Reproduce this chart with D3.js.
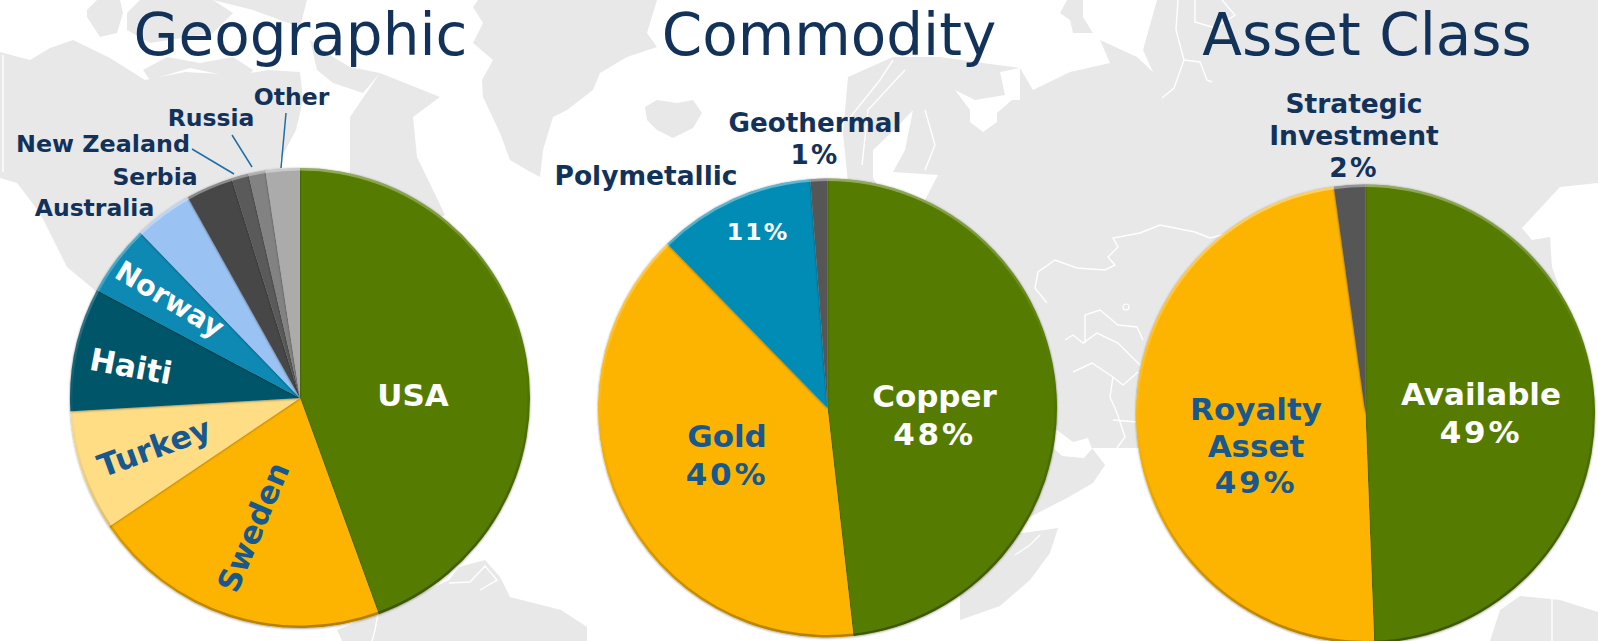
<!DOCTYPE html>
<html><head><meta charset="utf-8">
<script src="https://cdn.jsdelivr.net/npm/d3@7/dist/d3.min.js"></script>
<style>html,body{margin:0;padding:0;background:#fff;overflow:hidden}svg{display:block}
text{font-family:"DejaVu Sans",Verdana,sans-serif}</style></head><body>
<svg id="c" width="1598" height="641"></svg>
<script>
// ---------- data ----------
const geoNames  = ["USA","Sweden","Turkey","Haiti","Norway","Australia","Serbia","New Zealand","Russia","Other"];
const geoValues = [44.4,21.1,8.5,8.7,5.0,4.1,3.3,1.2,1.2,2.4];
const geoColors = ["#547b04","#fdb405","#ffdd85","#055468","#0789b3","#9ac2f3","#464646","#5a5a5a","#828282","#ababab"];
const comNames  = ["Copper","Gold","Polymetallic","Geothermal"];
const comValues = [48.2,39.5,11.1,1.2];
const comColors = ["#547b04","#fdb405","#068cb5","#565656"];
const astNames  = ["Available","Royalty Asset","Strategic Investment"];
const astValues = [49.4,48.4,2.2];
const astColors = ["#547b04","#fdb405","#565656"];
const titles = ["Geographic","Commodity","Asset Class"];

// ---------- layout (separate from data) ----------
const NAVY="#12325a", BLUE="#17598f", WHITE="#fff";
const pies = [
 {names:geoNames,values:geoValues,colors:geoColors,cx:300,cy:398,r:230,title:titles[0],tx:300.5},
 {names:comNames,values:comValues,colors:comColors,cx:827.5,cy:408,r:229.5,title:titles[1],tx:829},
 {names:astNames,values:astValues,colors:astColors,cx:1365.5,cy:414,r:229.5,title:titles[2],tx:1367}
];
// [lines, x, baseline y, size, fill, rotation, centred, line height]
const labels = [
 [["USA"],413,406,31,WHITE,0],
 [["Sweden"],253,527,31,BLUE,-67,1],
 [["Turkey"],154,447,31.5,BLUE,-20,1],
 [["Haiti"],131,366,31,WHITE,10.5,1],
 [["Norway"],170,299,28.5,WHITE,31,1],
 [["Australia"],94.5,216,23.5,NAVY,0],
 [["Serbia"],155,185,23.5,NAVY,0],
 [["New Zealand"],103,152,23.8,NAVY,0],
 [["Russia"],211,126,23.5,NAVY,0],
 [["Other"],291.5,105,23.5,NAVY,0],
 [["Copper","48%"],934.5,407,31,WHITE,0,0,38],
 [["Gold","40%"],727,447,31,BLUE,0,0,38],
 [["Polymetallic"],646,185,26.5,NAVY,0],
 [["11%"],758,240,23.5,WHITE,0],
 [["Geothermal","1%"],815,132,26.2,NAVY,0,0,32],
 [["Available","49%"],1481,405,31,WHITE,0,0,38],
 [["Royalty","Asset","49%"],1256,420,31,BLUE,0,0,36.5],
 [["Strategic","Investment","2%"],1354,113,26.5,NAVY,0,0,32]
];
const leaders = [[[286,113],[281,168]],[[232,135],[252,167]],[[192,149],[234,174]]];

// ---------- background map ----------
const land = [
 // North America
 [[0,52],[30,60],[50,48],[73,40],[110,58],[145,80],[185,72],[240,75],[268,70],[300,72],[303,100],[296,130],[280,160],[300,300],[97,292],[67,267],[40,213],[17,183],[0,178]],
 // Arctic islands
 [[87,10],[97,0],[120,0],[123,13],[117,33],[100,37],[87,17]],
 [[127,13],[140,0],[213,0],[233,13],[213,33],[150,43],[127,30]],
 [[143,70],[167,57],[200,63],[233,57],[253,70],[247,80],[190,68],[150,80]],
 [[213,0],[307,0],[300,27],[280,20],[253,10]],
 [[310,40],[333,57],[350,67],[380,73],[363,93],[333,83],[317,70]],
 [[350,117],[380,73],[440,97],[413,117],[417,157],[433,190],[445,215],[410,230],[350,180]],
 // Greenland
 [[473,7],[478,0],[657,0],[647,33],[657,47],[627,57],[600,73],[593,90],[567,110],[553,117],[543,150],[540,177],[527,170],[510,160],[500,133],[483,97],[482,80],[493,60],[473,43],[483,23]],
 // Iceland
 [[645,107],[657,100],[677,103],[693,100],[702,113],[693,128],[673,138],[657,130],[647,120]],
 // Novaya Zemlya
 [[1067,0],[1083,0],[1083,17],[1093,33],[1073,33],[1070,20],[1060,13]],
 // Eurasia
 [[848,77],[893,57],[940,57],[983,63],[1020,68],[1033,90],[1070,72],[1110,63],[1100,40],[1137,57],[1153,72],[1143,50],[1157,0],[1598,0],[1598,183],[1560,187],[1522,228],[1532,240],[1550,237],[1552,267],[1560,290],[1500,400],[1300,448],[1137,448],[1117,448],[1092,448],[1105,465],[1093,483],[1067,498],[1030,517],[980,530],[860,300],[843,133]],
 // Horn of Africa
 [[960,540],[1030,532],[1058,528],[1050,553],[1030,580],[1000,606],[960,620]],
 // South America
 [[459,567],[485,560],[500,577],[510,597],[561,610],[587,627],[587,641],[342,641],[337,630],[378,613],[449,580]],
 // SE Asia islands
 [[1500,610],[1520,596],[1560,600],[1598,612],[1598,641],[1490,641]]
];
const water = [
 [[873,178],[873,150],[897,127],[913,110],[905,150],[893,172],[938,175],[925,200],[880,190]],
 [[955,90],[970,110],[970,122],[983,132],[997,122],[997,113],[1012,100],[1020,100],[1020,68],[1000,72],[1005,95],[975,100]],
 [[1040,430],[1057,430],[1073,442],[1088,438],[1092,449],[1084,458],[1062,456],[1050,445]],
 [[1038,62],[1048,54],[1054,60],[1050,66]]
];
const borders = [
 [[1047,303],[1035,288],[1038,272],[1055,260],[1077,268],[1105,270],[1115,265],[1108,257],[1118,247],[1113,238],[1140,233],[1160,225],[1195,232],[1210,238],[1250,228],[1300,235],[1330,250]],
 [[1065,340],[1073,335],[1083,343],[1097,333],[1118,343],[1140,365]],
 [[1085,343],[1085,315],[1100,310],[1118,325],[1137,327],[1143,340]],
 [[1073,372],[1092,363],[1113,377],[1123,385],[1138,372]],
 [[1113,377],[1110,397],[1117,413],[1125,437],[1117,448]],
 [[1113,420],[1137,422]],
 [[1178,0],[1176,30],[1184,60],[1174,88],[1162,98]],
 [[1184,60],[1200,62],[1207,80],[1212,82]],
 [[1195,0],[1195,22],[1215,28],[1235,15],[1222,0]],
 [[3,55],[3,172]],
 [[449,583],[470,582],[485,566],[497,580],[480,590]],
 [[378,614],[375,630],[372,641]],
 [[848,120],[880,80],[893,60]],
 [[862,165],[868,110],[905,70]],
 [[925,110],[935,145],[925,170]],
 [[1040,535],[1030,545],[1015,555]],
 [[1552,597],[1552,641]]
];

// ---------- draw ----------
const svg = d3.select("#c");
const defs = svg.append("defs");
const g0 = defs.append("linearGradient").attr("id","bevel").attr("gradientUnits","userSpaceOnUse")
  .attr("x1",-40).attr("y1",-230).attr("x2",40).attr("y2",230);
[[0,"#fff",.38],[.4,"#fff",.05],[.55,"#000",.05],[1,"#000",.3]].forEach(s=>
  g0.append("stop").attr("offset",s[0]).attr("stop-color",s[1]).attr("stop-opacity",s[2]));
defs.append("filter").attr("id","mapsoft").append("feGaussianBlur").attr("stdDeviation",.7);
const sh = defs.append("filter").attr("id","shadow").attr("filterUnits","userSpaceOnUse")
  .attr("x",-260).attr("y",-260).attr("width",520).attr("height",520);
sh.append("feDropShadow").attr("dx",0).attr("dy",.5).attr("stdDeviation",1.1).attr("flood-color","#000").attr("flood-opacity",.45);

const mapG = svg.append("g").attr("filter","url(#mapsoft)");
const ln = d3.line().curve(d3.curveLinear);
const lnC = d3.line().curve(d3.curveLinearClosed);
mapG.selectAll("path.land").data(land).join("path").attr("class","land").attr("d",lnC).attr("fill","#e8e8e8");
mapG.selectAll("path.water").data(water).join("path").attr("class","water").attr("d",lnC).attr("fill","#fff");
mapG.selectAll("path.border").data(borders).join("path").attr("class","border").attr("d",ln).attr("fill","none").attr("stroke","#fff").attr("stroke-width",1.4);
mapG.append("circle").attr("cx",1126).attr("cy",307).attr("r",3).attr("fill","none").attr("stroke","#fff").attr("stroke-width",1.2);

pies.forEach(p=>{
  const g = svg.append("g").attr("transform",`translate(${p.cx},${p.cy})`);
  const arcs = d3.pie().sort(null).startAngle(0).endAngle(2*Math.PI)(p.values);
  const arc = d3.arc().innerRadius(0).outerRadius(p.r);
  const rim = d3.arc().innerRadius(p.r-2.5).outerRadius(p.r);
  const color = d3.scaleOrdinal().domain(p.names).range(p.colors);
  g.append("g").selectAll("path").data(arcs).join("path").attr("d",arc)
    .attr("fill",(d,i)=>color(p.names[i])).attr("filter","url(#shadow)");
  g.append("g").selectAll("path").data(arcs).join("path").attr("d",rim).attr("fill","url(#bevel)");
  svg.append("text").attr("x",p.tx).attr("y",55).attr("text-anchor","middle")
    .attr("font-size",58).attr("fill","#12325a").text(p.title);
});

svg.append("g").selectAll("path").data(leaders).join("path").attr("d",ln)
  .attr("fill","none").attr("stroke","#1f6ea6").attr("stroke-width",1.5);

labels.forEach(l=>{
  const [lines,x,y,size,fill,rot,center,lh]=l;
  const t = svg.append("text").attr("text-anchor","middle").attr("font-weight","bold")
    .attr("font-size",size).attr("fill",fill)
    .attr("transform",`translate(${x},${y}) rotate(${rot})`);
  lines.forEach((s,i)=>t.append("tspan").attr("x",0).attr("y",i*(lh||0)+(center?size*.36:0))
    .attr("letter-spacing",s.endsWith("%")?size*.09:null).text(s));
});
</script></body></html>
